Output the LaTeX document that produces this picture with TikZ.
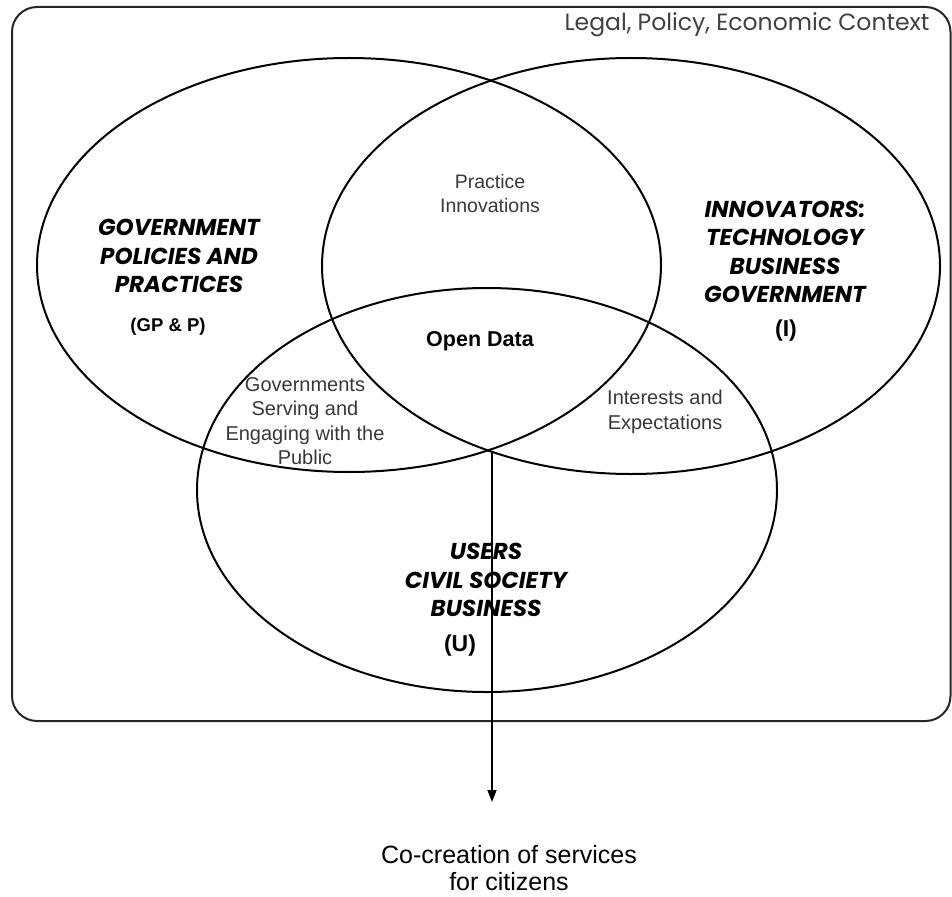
\documentclass[tikz,border=0pt]{standalone}
\usepackage{fontspec}
\setmainfont{Liberation Sans}
\newfontfamily\gothic{Poppins}
\usetikzlibrary{arrows.meta}
\begin{document}
\begin{tikzpicture}[x=1pt,y=-1pt,
  setline/.style={draw=black, line width=2pt},
  frame/.style={draw=black!85, line width=2pt, rounded corners=25pt},
  biglabel/.style={font=\gothic\bfseries\itshape\fontsize{23}{28.5}\selectfont, align=center, inner sep=0pt},
  abbrev/.style={font=\bfseries\fontsize{23}{26}\selectfont, inner sep=0pt},
  graytext/.style={font=\fontsize{20}{24.5}\selectfont, text=black!78, align=center, inner sep=0pt},
  ctx/.style={font=\gothic\fontsize{23.5}{26}\selectfont, text=black!75, inner sep=0pt},
  flow/.style={draw=black, line width=1.6pt, -{Triangle[length=12pt,width=9pt]}}
]
\useasboundingbox (0,0) rectangle (952,896);
% context frame
\draw[frame] (12,7) rectangle (950.5,721);
\node[ctx] (context) at (747,25) {Legal, Policy, Economic Context};
% sets
\draw[setline] (349,265) ellipse [x radius=312pt, y radius=207pt];
\draw[setline] (631,266) ellipse [x radius=309pt, y radius=208pt];
\draw[setline] (487,490) ellipse [x radius=290pt, y radius=202pt];
% labels
\node[biglabel] (gpp) at (179,256) {GOVERNMENT\\POLICIES AND\\PRACTICES};
\node[abbrev, font=\bfseries\fontsize{18.5}{22}\selectfont] (gppab) at (168,327) {(GP \& P)};
\node[biglabel] (inn) at (785,252) {INNOVATORS:\\TECHNOLOGY\\BUSINESS\\GOVERNMENT};
\node[abbrev] (innab) at (786,331) {(I)};
\node[biglabel] (usr) at (486,580) {USERS\\CIVIL SOCIETY\\BUSINESS};
\node[abbrev] (usrab) at (460,646) {(U)};
\node[graytext, font=\fontsize{19.5}{24}\selectfont] (prac) at (490,194) {Practice\\Innovations};
\node[graytext] (gov) at (305,421) {Governments\\Serving and\\Engaging with the\\Public};
\node[graytext] (int) at (665,412) {Interests and\\Expectations};
\node[font=\bfseries\fontsize{21.5}{24}\selectfont, inner sep=0pt] (od) at (480,341) {Open Data};
% outcome
\coordinate (meet) at (492,451);
\coordinate (tip) at (492,802);
\draw[flow] (meet) -- (tip);
\node[font=\fontsize{25}{27}\selectfont, align=center, inner sep=0pt] (cocreate) at (509,868) {Co-creation of services\\for citizens};
\end{tikzpicture}
\end{document}
